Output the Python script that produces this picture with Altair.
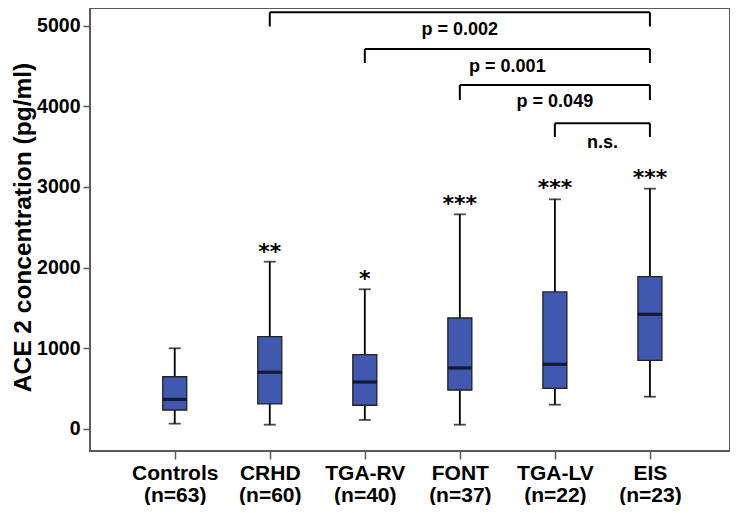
import json
import altair as alt
import pandas as pd

# ---- data ----
groups = ["Controls", "CRHD", "TGA-RV", "FONT", "TGA-LV", "EIS"]
n_values = [63, 60, 40, 37, 22, 23]
whisker_low = [66, 53, 112, 53, 301, 400]
q1 = [235, 310, 294, 483, 504, 851]
median = [367, 703, 582, 756, 802, 1421]
q3 = [647, 1144, 921, 1375, 1698, 1887]
whisker_high = [1000, 2073, 1731, 2660, 2846, 2978]
stars = ["", "**", "*", "***", "***", "***"]
star_y = [0, 2112, 1774, 2703, 2901, 3025]

bracket_from = [1, 2, 3, 4]
bracket_to = [5, 5, 5, 5]
bracket_top = [5163, 4709, 4263, 3788]
bracket_end = [4988, 4535, 4077, 3618]
bracket_text = ["p = 0.002", "p = 0.001", "p = 0.049", "n.s."]
bracket_text_y = [4882, 4427, 3994, 3486]

y_ticks = [0, 1000, 2000, 3000, 4000, 5000]

box_df = pd.DataFrame({
    "idx": list(range(len(groups))),
    "group": groups,
    "lo": whisker_low, "q1": q1, "med": median, "q3": q3, "hi": whisker_high,
})
star_df = pd.DataFrame({"idx": list(range(len(groups))), "star": stars, "y": star_y})
star_df = star_df[star_df["star"] != ""]

br_df = pd.DataFrame({
    "x1": bracket_from, "x2": bracket_to, "top": bracket_top,
    "end": bracket_end, "label": bracket_text, "ty": bracket_text_y,
})
ends_df = pd.DataFrame({
    "x": bracket_from + bracket_to,
    "top": bracket_top + bracket_top,
    "end": bracket_end + bracket_end,
})

FONT = "Liberation Sans"
BLUE = "#4058b0"
FRAME = "#5a5a5a"

label_expr = (
    f"[{json.dumps(groups)}[datum.value], "
    f"'(n=' + {json.dumps(n_values)}[datum.value] + ')']"
)

xscale = alt.Scale(domain=[-0.839, 5.790], nice=False, zero=False)
yscale = alt.Scale(domain=[-273, 5217], nice=False, zero=False)

x_axis = alt.Axis(
    values=list(range(len(groups))), labelExpr=label_expr, title=None,
    labelFont=FONT, labelFontSize=21, labelFontWeight="bold", labelColor="black",
    labelLineHeight=22, labelPadding=3, tickSize=8, tickColor=FRAME,
    tickWidth=1.5, domain=False, grid=False,
)
y_axis = alt.Axis(
    values=y_ticks, format="d", title="ACE 2 concentration (pg/ml)",
    labelFont=FONT, labelFontSize=19.5, labelFontWeight="bold", labelColor="black",
    labelPadding=3, tickSize=7, tickColor=FRAME, tickWidth=1.5,
    domain=False, grid=False,
    titleFont=FONT, titleFontSize=24.5, titleFontWeight="bold", titleColor="black",
    titleAngle=270, titleAlign="center", titleBaseline="alphabetic",
    titleX=-60, titleY=219,
)

base = alt.Chart(box_df)
X = alt.X("idx:Q", scale=xscale, axis=x_axis)

whisker = base.mark_rule(color="black", strokeWidth=1.8).encode(
    x=X, y=alt.Y("lo:Q", scale=yscale, axis=y_axis), y2="hi:Q"
)
cap_lo = base.mark_tick(orient="horizontal", size=12, thickness=1.8, color="black").encode(
    x=alt.X("idx:Q"), y=alt.Y("lo:Q")
)
cap_hi = base.mark_tick(orient="horizontal", size=12, thickness=1.8, color="black").encode(
    x=alt.X("idx:Q"), y=alt.Y("hi:Q")
)
box = base.mark_bar(size=24, color=BLUE, stroke="#222222", strokeWidth=1.3).encode(
    x=alt.X("idx:Q"), y=alt.Y("q1:Q"), y2="q3:Q"
)
med_tick = base.mark_tick(orient="horizontal", size=24, thickness=3.2, color="black").encode(
    x=alt.X("idx:Q"), y=alt.Y("med:Q")
)
star_txt = alt.Chart(star_df).mark_text(
    font="DejaVu Sans", fontSize=22, fontWeight="bold", color="black",
    baseline="alphabetic", align="center"
).encode(x=alt.X("idx:Q"), y=alt.Y("y:Q"), text="star:N")

br_h = alt.Chart(br_df).mark_rule(color="black", strokeWidth=2).encode(
    x=alt.X("x1:Q"), x2="x2:Q", y=alt.Y("top:Q")
)
br_v = alt.Chart(ends_df).mark_rule(color="black", strokeWidth=2).encode(
    x=alt.X("x:Q"), y=alt.Y("top:Q"), y2="end:Q"
)
br_t = alt.Chart(br_df).transform_calculate(
    mid="(datum.x1 + datum.x2) / 2"
).mark_text(
    font=FONT, fontSize=18, fontWeight="bold", color="black", baseline="alphabetic", align="center"
).encode(x=alt.X("mid:Q"), y=alt.Y("ty:Q"), text="label:N")

chart = alt.layer(
    whisker, cap_lo, cap_hi, box, med_tick, star_txt, br_h, br_v, br_t
).properties(
    width=640, height=443,
    autosize=alt.AutoSizeParams(type="none"),
    padding={"left": 82, "top": 0, "right": 0, "bottom": 54},
).configure(
    background="white",
    view=alt.ViewConfig(stroke=FRAME, strokeWidth=2),
)

chart.save("out.html", embed_options={"renderer": "svg", "actions": False})
